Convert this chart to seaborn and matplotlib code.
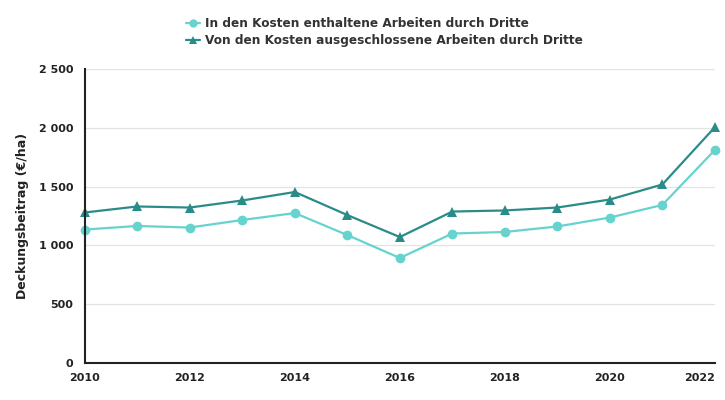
import pandas as pd
import numpy as np
import matplotlib.pyplot as plt
import seaborn as sns

# ============================================================================
# DATA
# ============================================================================

years = list(range(2010, 2023))

included = [1135, 1165, 1152, 1216, 1275, 1088, 893,
            1101, 1114, 1161, 1237, 1344, 1811]
excluded = [1280, 1331, 1322, 1382, 1454, 1258, 1071,
            1288, 1297, 1322, 1390, 1518, 2005]

series_names = [
    "In den Kosten enthaltene Arbeiten durch Dritte",
    "Von den Kosten ausgeschlossene Arbeiten durch Dritte",
]

df = pd.DataFrame({
    "Jahr": years * 2,
    "Wert": included + excluded,
    "Serie": [series_names[0]] * len(years) + [series_names[1]] * len(years),
})

# ============================================================================
# PLOT
# ============================================================================

sns.set_style("white")
plt.rcParams["font.family"] = ["DejaVu Sans"]

fig = plt.figure(figsize=(7.25, 4), dpi=100)
ax = fig.add_axes([0.117, 0.0925, 0.869, 0.735])

palette = {series_names[0]: "#66d3ce", series_names[1]: "#2a8c89"}
markers = {series_names[0]: "o", series_names[1]: "^"}

sns.lineplot(
    data=df,
    x="Jahr",
    y="Wert",
    hue="Serie",
    style="Serie",
    markers=markers,
    dashes=False,
    palette=palette,
    markersize=7,
    markeredgewidth=0,
    linewidth=1.6,
    ax=ax,
    clip_on=False,
)

ax.set_xlim(2010, 2022)
ax.set_ylim(0, 2500)
ax.set_xticks(range(2010, 2023, 2))
ax.set_yticks(range(0, 2501, 500))
ax.set_yticklabels([f"{v:,}".replace(",", " ") for v in range(0, 2501, 500)])

ax.yaxis.grid(True, color="#e3e3e3", linewidth=0.9)
ax.set_axisbelow(True)

for side in ["top", "right"]:
    ax.spines[side].set_visible(False)
for side in ["left", "bottom"]:
    ax.spines[side].set_color("#222222")
    ax.spines[side].set_linewidth(1.5)

ax.tick_params(axis="both", direction="out", length=5, width=1.5,
               color="#222222", labelsize=8, labelcolor="#222222")
ax.tick_params(axis="x", pad=2)
for lbl in ax.get_xticklabels() + ax.get_yticklabels():
    lbl.set_fontweight("bold")
ax.get_xticklabels()[-1].set_horizontalalignment("right")

ax.set_xlabel("")
ax.set_ylabel("Deckungsbeitrag (€/ha)", fontsize=9, fontweight="bold",
              color="#222222")
ax.yaxis.set_label_coords(-0.088, 0.5)

leg = ax.legend(
    loc="center",
    bbox_to_anchor=(0.53, 0.92),
    bbox_transform=fig.transFigure,
    frameon=False,
    fontsize=8.7,
    handlelength=1.2,
    handletextpad=0.4,
    labelspacing=0.35,
    markerscale=0.85,
    title=None,
)
for t in leg.get_texts():
    t.set_fontweight("bold")
    t.set_color("#333333")

plt.savefig("out.png", dpi=100)
